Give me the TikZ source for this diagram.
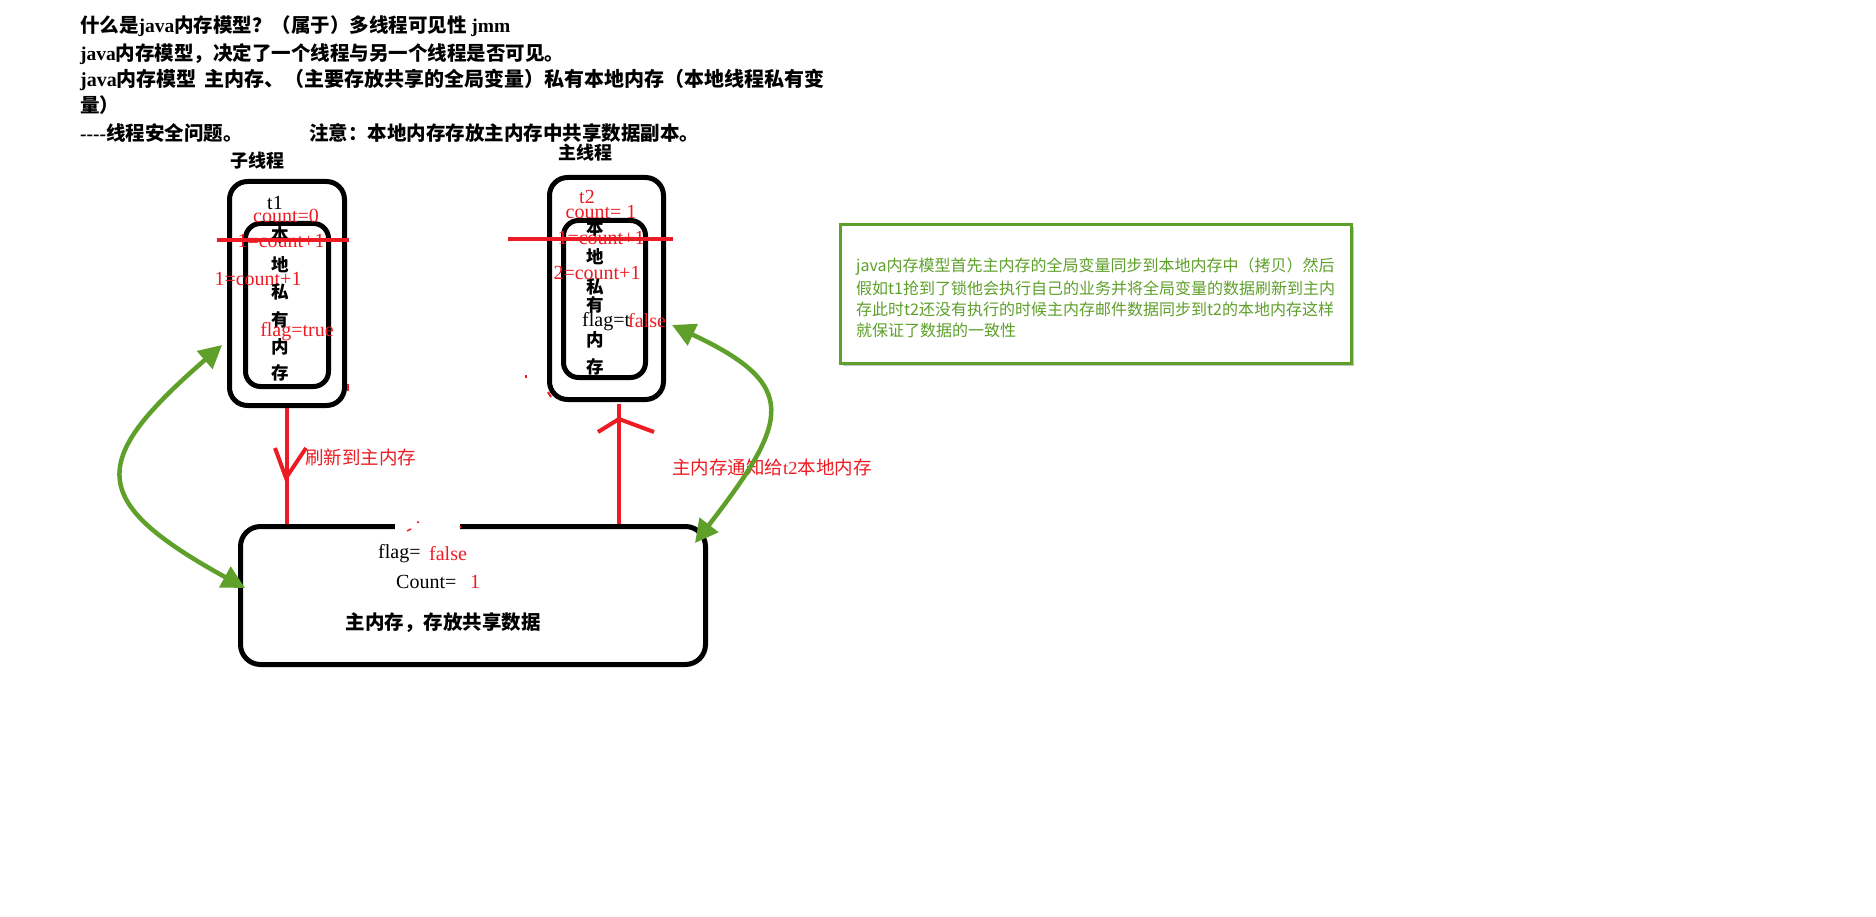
\documentclass[tikz,border=0pt]{standalone}
\usepackage{fontspec}
\setmainfont{Liberation Serif}
\newfontfamily\cjk{Noto Sans CJK SC}
\usetikzlibrary{arrows.meta,shadows}
\definecolor{jred}{RGB}{237,28,36}
\definecolor{jgreen}{RGB}{94,160,42}
\newcommand\lt[1]{{\rmfamily\bfseries #1}}
\tikzset{
  hdr/.style={anchor=base west, inner sep=0, font=\cjk\bfseries\fontsize{19.5}{24}\selectfont},
  tbox/.style={draw, line width=5pt, rounded corners=18pt, inner sep=0},
  vch/.style={inner sep=0, font=\cjk\bfseries\fontsize{17.5}{17.5}\selectfont},
  ttl/.style={inner sep=0, font=\cjk\bfseries\fontsize{18}{18}\selectfont},
  rtxt/.style={inner sep=0, text=jred, font=\fontsize{20}{20}\selectfont},
  btxt/.style={inner sep=0, font=\fontsize{20}{20}\selectfont},
  rcjk/.style={inner sep=0, text=jred, font=\cjk\fontsize{18.5}{18.5}\selectfont},
  redl/.style={draw=jred, line width=4pt},
  garr/.style={draw=jgreen, line width=4.5pt, {Triangle[length=23pt,width=23pt]}-{Triangle[length=23pt,width=23pt]}},
  gtxt/.style={anchor=west, inner sep=0, text=jgreen, font=\cjk\fontsize{16}{16}\selectfont}
}
\begin{document}
\begin{tikzpicture}[x=1pt,y=-1pt]
\useasboundingbox (0,0) rectangle (1876,917);
\fill[white] (0,0) rectangle (1876,917);

% header
\node[hdr] (h1) at (80,33) {什么是\lt{java}内存模型？（属于）多线程可见性 \lt{jmm}};
\node[hdr] (h2) at (80,61) {\lt{java}内存模型，决定了一个线程与另一个线程是否可见。};
\node[hdr, font=\cjk\bfseries\fontsize{20}{24}\selectfont] (h3) at (80,87) {\lt{java}内存模型\hspace{8pt}主内存、（主要存放共享的全局变量）私有本地内存（本地线程私有变};
\node[hdr] (h4) at (80,113) {量）};
\node[hdr] (h5) at (80,141) {\lt{-{}-{}-{}-}线程安全问题。};
\node[hdr] (h6) at (309,141) {注意：本地内存存放主内存中共享数据副本。};

% left thread
\node[ttl] (lt) at (257,161) {子线程};
\node[tbox, minimum width=115pt, minimum height=224pt] (lo) at (287,293.5) {};
\node[tbox, rounded corners=15pt, minimum width=83pt, minimum height=163pt] (li) at (287,305) {};
\node[btxt] (t1) at (275,203) {t1};
\node[rtxt] (c0) at (286,216) {count=0};
\node[rtxt] (s1) at (281,241) {1=count+1};
\node[rtxt] (u1) at (258,279) {1=count+1};
\node[vch] (la) at (280,235) {本};
\node[vch] (lb) at (280,265) {地};
\node[vch] (lc) at (280,292) {私};
\node[vch] (ld) at (280,320) {有};
\node[vch] (le) at (280,347) {内};
\node[vch] (lf) at (280,373) {存};
\node[rtxt] (f1) at (297,332) {flag=true};
\draw[redl] (217,240) -- (349,240);

% right thread
\node[ttl] (rt) at (585,153) {主线程};
\node[tbox, minimum width=114pt, minimum height=222pt] (ro) at (606.5,288.5) {};
\node[tbox, rounded corners=15pt, minimum width=82pt, minimum height=157pt] (ri) at (604.5,299) {};
\node[rtxt] (t2) at (587,197) {t2};
\node[rtxt] (c1) at (601,212) {count= 1};
\node[rtxt] (s2) at (601,238) {1=count+1};
\node[rtxt] (u2) at (597,273) {2=count+1};
\node[vch] (ra) at (595,228) {本};
\node[vch] (rb) at (595,257) {地};
\node[vch] (rc) at (595,287) {私};
\node[vch] (rd) at (595,305) {有};
\node[vch] (re) at (595,340) {内};
\node[vch] (rf) at (595,367) {存};
\node[btxt, anchor=west] (f2a) at (582,322) {flag=t};
\node[rtxt, anchor=west] (f2b) at (628,321) {false};
\draw[redl] (508,239) -- (673,239);

% main memory
\node[tbox, rounded corners=20pt, minimum width=465pt, minimum height=138pt] (mb) at (473,595.5) {};
\draw[white, line width=7pt] (395,526.5) -- (460,526.5);
\draw[jred, line width=1.5pt] (407,531) -- (411,529) (417,522) -- (419,522) (460,526) -- (461,528);
\node[btxt, anchor=west] (mf) at (378,554) {flag=};
\node[rtxt, anchor=west] (mfv) at (429,554) {false};
\node[btxt, anchor=west] (mc) at (396,582) {Count=};
\node[rtxt, anchor=west] (mcv) at (470,582) {1};
\node[ttl, font=\cjk\bfseries\fontsize{19.5}{19.5}\selectfont] (mt) at (443,623) {主内存，存放共享数据};

% red arrows
\draw[redl] (lo.south) -- (lo.south |- mb.north);
\draw[redl] (275,448) -- (286,478) -- (306,448);
\coordinate (rtop) at (619,404);
\draw[redl] (mb.north -| rtop) -- (rtop);
\draw[redl] (598,432) -- (619,419) -- (654,432);
\node[rcjk, anchor=west] (l1) at (305,457) {刷新到主内存};
\node[rcjk, anchor=west] (l2) at (672,467) {主内存通知给{\rmfamily t2}本地内存};

% small red marks
\draw[jred, line width=2pt] (348,384) -- (348,391);
\draw[jred, line width=2pt] (526,375) -- (526,378);
\draw[jred, line width=2pt] (548,392) -- (551,397);

% green arrows
\coordinate (g1a) at (222,345);
\coordinate (g1b) at (245,588);
\draw[garr] (g1a) .. controls (90,460) and (85,500) .. (g1b);
\coordinate (g2a) at (672,325);
\coordinate (g2b) at (695,543);
\draw[garr] (g2a) .. controls (800,385) and (790,420) .. (g2b);

% green note
\node[draw=jgreen, line width=3pt, fill=white, drop shadow={shadow xshift=2.5pt, shadow yshift=-2.5pt, opacity=0.45}, minimum width=511pt, minimum height=139pt, inner sep=0] (gb) at (1096,294) {};
\node[gtxt] (g1) at (856,267) {java内存模型首先主内存的全局变量同步到本地内存中（拷贝）然后};
\node[gtxt] (g2) at (856,288) {假如t1抢到了锁他会执行自己的业务并将全局变量的数据刷新到主内};
\node[gtxt] (g3) at (856,309) {存此时t2还没有执行的时候主内存邮件数据同步到t2的本地内存这样};
\node[gtxt] (g4) at (856,330) {就保证了数据的一致性};
\end{tikzpicture}
\end{document}
